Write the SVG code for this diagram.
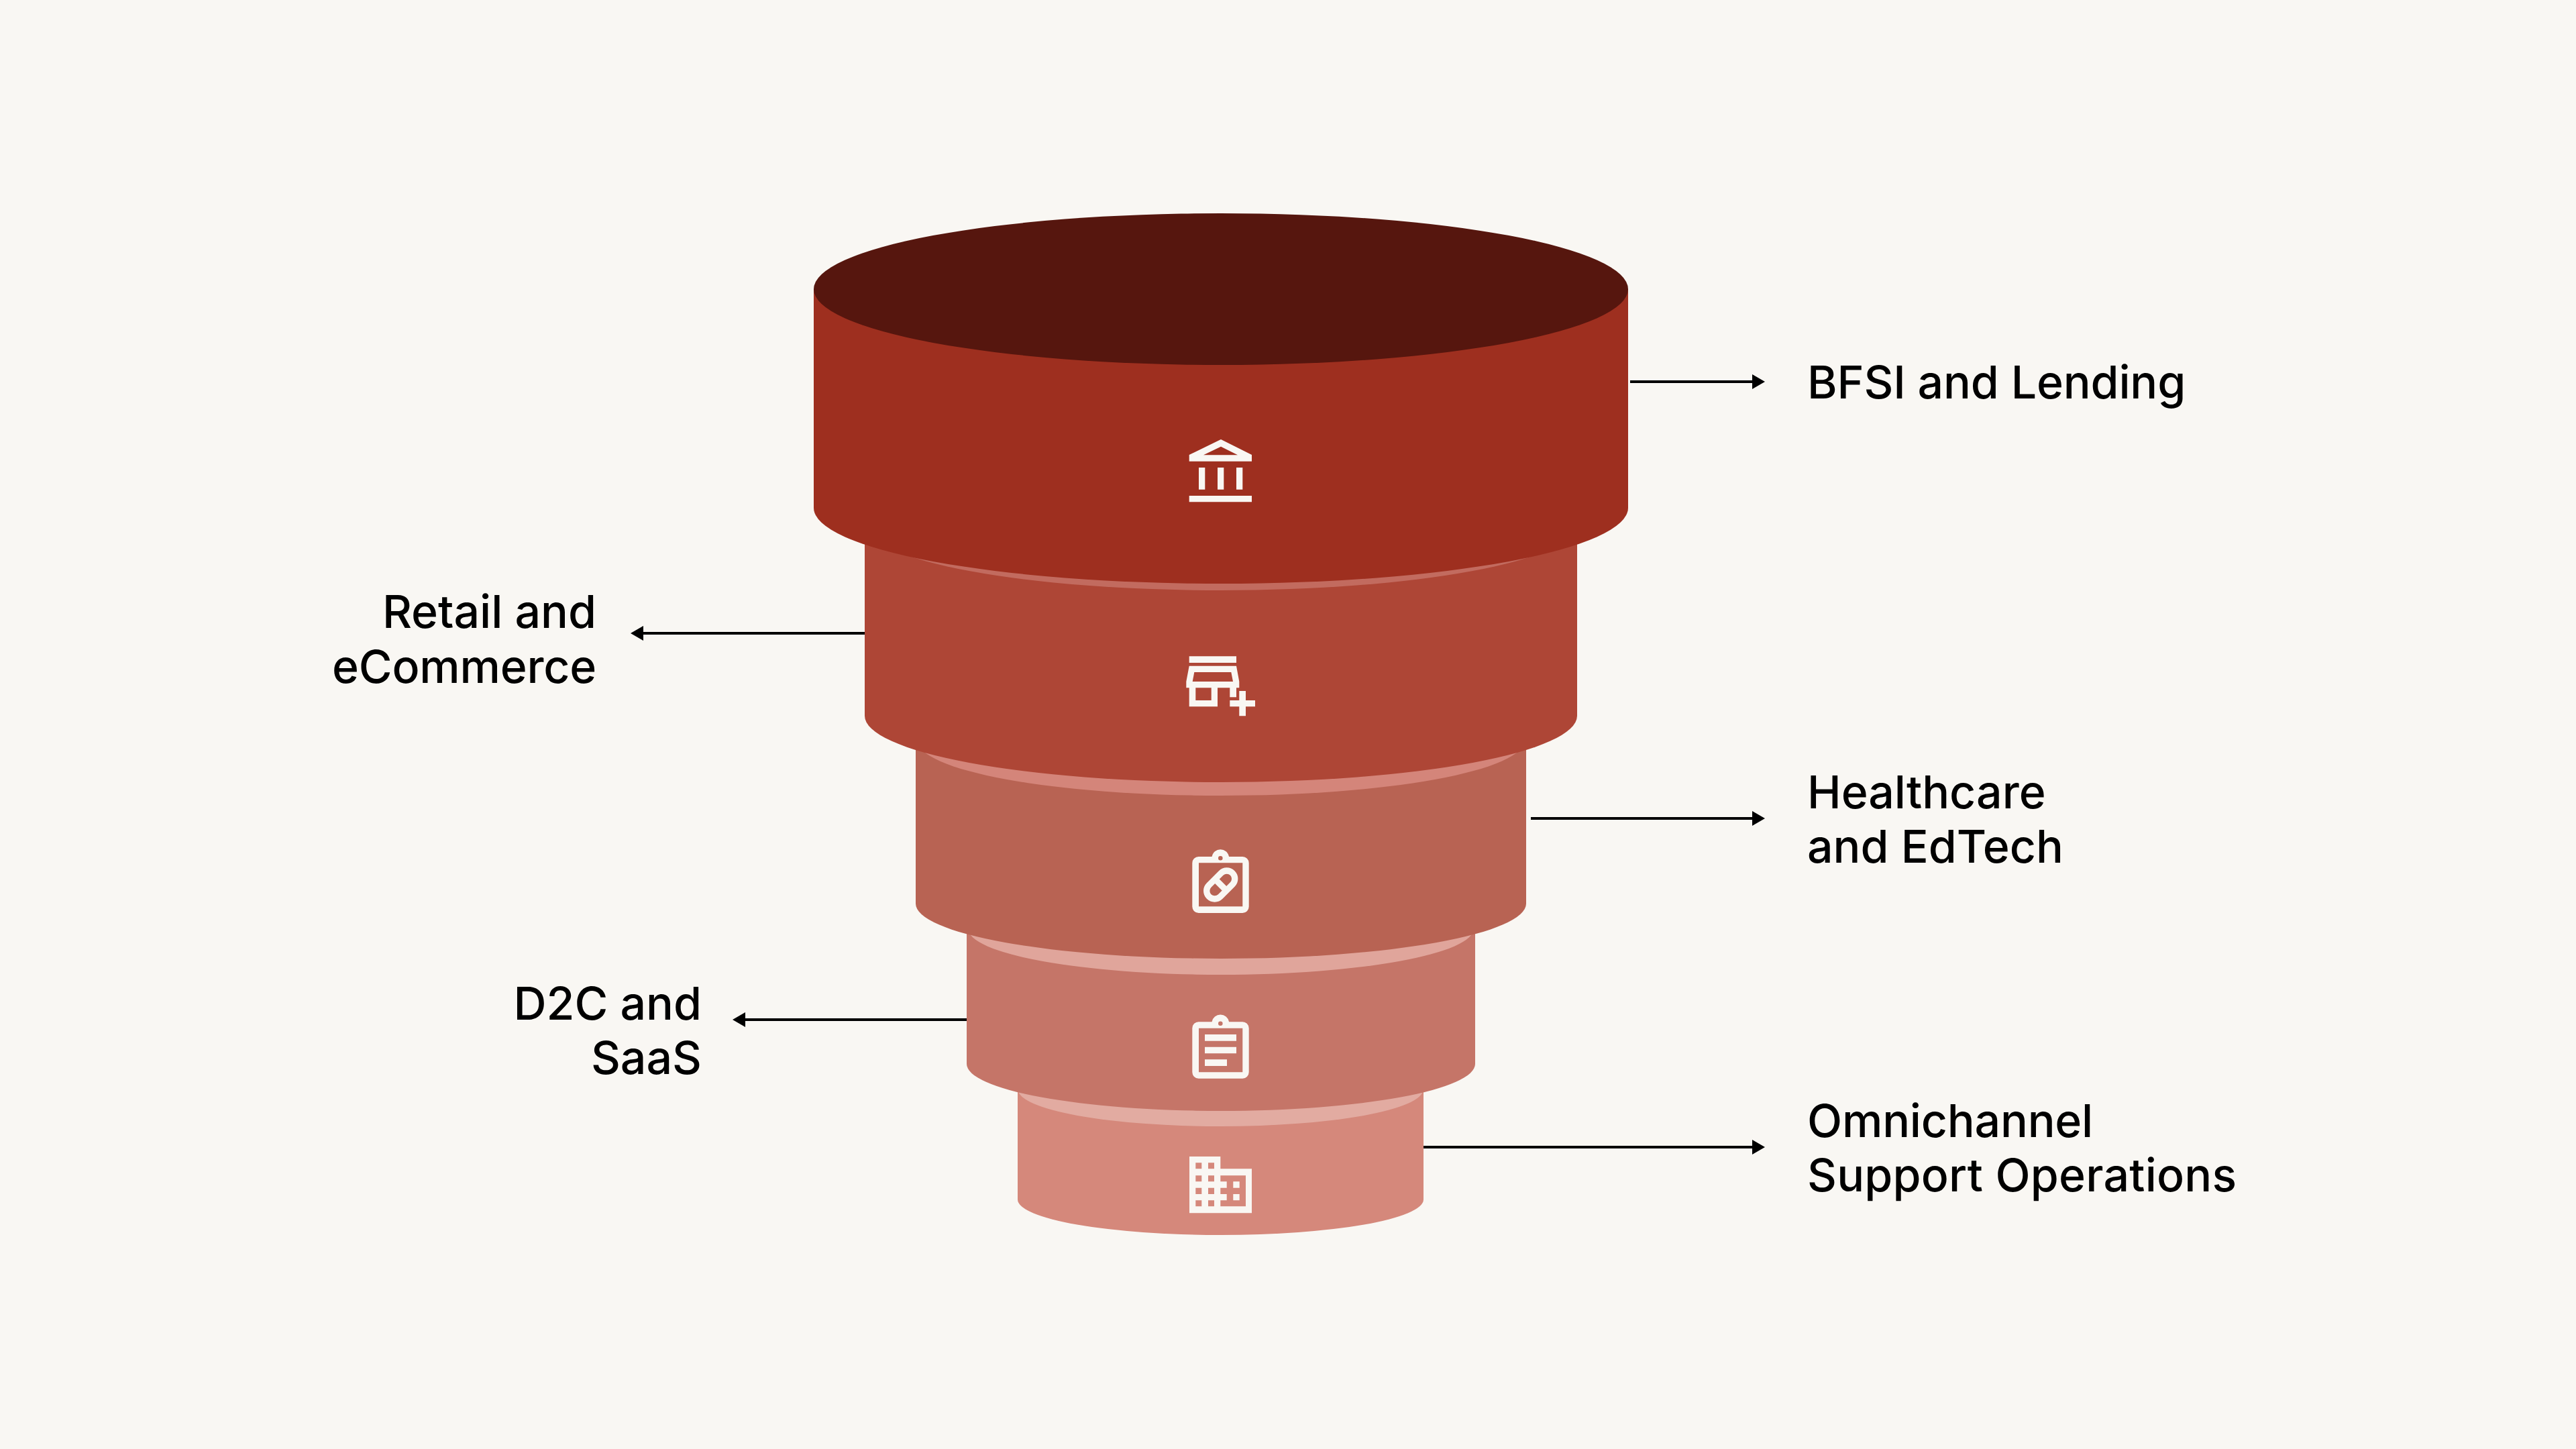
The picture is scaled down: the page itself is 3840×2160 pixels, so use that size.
<svg xmlns="http://www.w3.org/2000/svg" width="3840" height="2160" viewBox="0 0 3840 2160">
<style>
.i{fill:#F9F7F3;fill-rule:evenodd}
.s{fill:none;stroke:#F9F7F3;stroke-width:9.33}
.t{font-family:Inter,"Liberation Sans",sans-serif;font-size:68px;font-weight:500;fill:#000}
.r{text-anchor:end}
.c{stroke:#000;stroke-width:4;fill:none;marker-end:url(#a)}
</style>
<defs><marker id="a" markerUnits="userSpaceOnUse" markerWidth="20" markerHeight="24" refX="11" refY="11.5" orient="auto"><path d="M0 0.5L19 11.5L0 22.5Z" fill="#000"/></marker></defs>
<rect width="3840" height="2160" fill="#F9F7F3"/>
<g id="tier5">
<path d="M1517 1600V1788A302.5 53 0 0 0 2122 1788V1600Z" fill="#D5887B"/>
<ellipse cx="1819.5" cy="1624" rx="302" ry="55" fill="#E2ABA1"/>
<path class="i" d="M1773 1724H1819.3V1742.3H1866V1808.3H1773ZM1782.3 1733.3V1742.3H1791.3V1733.3ZM1801 1733.3V1742.3H1810V1733.3ZM1782.3 1752.3V1761.3H1791.3V1752.3ZM1801 1752.3V1761.3H1810V1752.3ZM1782.3 1770.7V1780H1791.3V1770.7ZM1801 1770.7V1780H1810V1770.7ZM1782.3 1789.3V1798.3H1791.3V1789.3ZM1801 1789.3V1798.3H1810V1789.3ZM1819.3 1752.3V1761.3H1828.7V1770.7H1819.3V1780H1828.7V1789.3H1819.3V1798.3H1857V1752.3ZM1838.3 1761.3V1770.7H1847.7V1761.3ZM1838.3 1780V1789.3H1847.7V1780Z"/>
</g>
<g id="tier4">
<path d="M1441 1350V1586A379 70 0 0 0 2199 1586V1350Z" fill="#C57568"/>
<ellipse cx="1820" cy="1384" rx="377" ry="69" fill="#E0A59B"/>
<path class="i" d="M1786.7 1523.3H1806.5A13 13 0 0 1 1832.1 1523.3H1852.3A9.4 9.4 0 0 1 1861.7 1532.7V1598.3A9.4 9.4 0 0 1 1852.3 1607.7H1786.7A9.4 9.4 0 0 1 1777.3 1598.3V1532.7A9.4 9.4 0 0 1 1786.7 1523.3ZM1787 1532.7V1598.3H1852.3V1532.7ZM1822.6 1525.7A3.3 3.3 0 1 0 1816 1525.7A3.3 3.3 0 1 0 1822.6 1525.7ZM1796 1542V1551.7H1843V1542ZM1796 1560.7V1570.3H1843V1560.7ZM1796 1579.3V1589H1829V1579.3Z"/>
</g>
<g id="tier3">
<path d="M1365 1090V1347A455 82 0 0 0 2275 1347V1090Z" fill="#B86353"/>
<ellipse cx="1820" cy="1103" rx="453" ry="83" fill="#D4857A"/>
<path class="i" d="M1786.7 1277H1806.5A13 13 0 0 1 1832.1 1277H1852.3A9.4 9.4 0 0 1 1861.7 1286.4V1351.6A9.4 9.4 0 0 1 1852.3 1361H1786.7A9.4 9.4 0 0 1 1777.3 1351.6V1286.4A9.4 9.4 0 0 1 1786.7 1277ZM1787 1286.3V1351.3H1852.3V1286.3ZM1822.6 1279.3A3.3 3.3 0 1 0 1816 1279.3A3.3 3.3 0 1 0 1822.6 1279.3Z"/>
<path class="s" d="M1811.2 1310.5L1828.2 1327.5"/>
<path class="s" d="M1802.2 1319.5L1820.2 1301.5A12 12 0 0 1 1837.2 1318.5L1819.2 1336.5A12 12 0 0 1 1802.2 1319.5Z"/>
</g>
<g id="tier2">
<path d="M1289 800V1067A531 99 0 0 0 2351 1067V800Z" fill="#AE4636"/>
<ellipse cx="1820" cy="782" rx="529" ry="98" fill="#C26B5F"/>
<path class="i" d="M1772.7 978.3H1843V988H1772.7ZM1772.7 992.7H1843L1847.3 1016V1025.3H1843V1039.3H1833.3V1025.3H1815V1053.3H1772.7V1025.3H1768.3V1016ZM1780.3 1002L1777.7 1016H1838L1835.3 1002ZM1782.3 1025.3V1044H1805.7V1025.3ZM1847.3 1030H1857V1044H1871V1053.3H1857V1067.3H1847.3V1053.3H1833.3V1044H1847.3Z"/>
</g>
<g id="tier1">
<path d="M1213 431V757A607 113 0 0 0 2427 757V431Z" fill="#9E2F1F"/>
<ellipse cx="1820" cy="431" rx="607" ry="113" fill="#56160E"/>
<path class="i" d="M1820 655L1866 678V687.7H1772.7V678ZM1820 665.7L1794 678.3H1845ZM1787 697H1796.3V729.7H1787ZM1815 697H1824.3V729.7H1815ZM1843 697H1852.3V729.7H1843ZM1772.7 739H1866V748.3H1772.7Z"/>
</g>
<g id="connectors">
<path class="c" d="M2430 569H2623"/>
<path class="c" d="M1289 944H948"/>
<path class="c" d="M2282 1220H2623"/>
<path class="c" d="M1441 1520H1100"/>
<path class="c" d="M2122 1710H2623"/>
</g>
<g id="labels">
<text class="t" x="2694" y="594" letter-spacing="-0.15">BFSI and Lending</text>
<text class="t r" x="889" y="936">Retail and</text>
<text class="t r" x="889" y="1018" letter-spacing="-0.2">eCommerce</text>
<text class="t" x="2694" y="1205">Healthcare</text>
<text class="t" x="2694" y="1286">and EdTech</text>
<text class="t r" x="1046" y="1520">D2C and</text>
<text class="t r" x="1046" y="1601">SaaS</text>
<text class="t" x="2694" y="1695" letter-spacing="-0.2">Omnichannel</text>
<text class="t" x="2694" y="1776" letter-spacing="0.22">Support Operations</text>
</g>
</svg>
